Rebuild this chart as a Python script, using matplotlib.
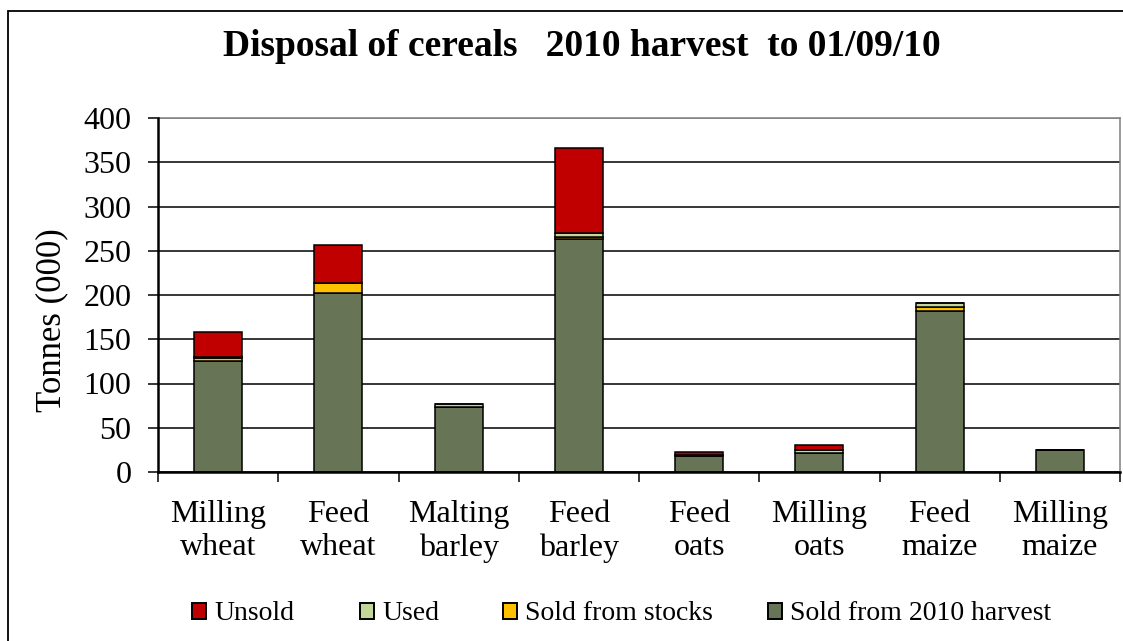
import numpy as np
import matplotlib
matplotlib.use("Agg")
import matplotlib.pyplot as plt
from matplotlib.patches import Patch, Rectangle

plt.rcParams['font.family'] = ['Liberation Serif', 'DejaVu Serif']

# data (tonnes, 000)
categories = ["Milling\nwheat", "Feed\nwheat", "Malting\nbarley", "Feed\nbarley",
              "Feed\noats", "Milling\noats", "Feed\nmaize", "Milling\nmaize"]
harvest = [125, 202, 74, 263, 18, 22, 182, 25]
stocks = [4, 11, 0, 3, 0, 0, 5, 0]
used = [1, 0, 3, 4, 1, 3, 4, 0]
unsold = [28, 43, 0, 96, 4, 6, 0, 0]

series = [("Sold from 2010 harvest", harvest, "#677556"),
          ("Sold from stocks", stocks, "#FFC000"),
          ("Used", used, "#C4D79B"),
          ("Unsold", unsold, "#C00000")]

fig = plt.figure(figsize=(11.23, 6.41), dpi=100)
ax = fig.add_axes([158/1123, 1-472/641, 962/1123, (472-118)/641])

x = np.arange(len(categories))
bottom = np.zeros(len(categories))
for name, vals, col in series:
    ax.bar(x, vals, 0.4, bottom=bottom, color=col, edgecolor="black",
           linewidth=1.1, zorder=3, label=name)
    bottom += np.array(vals)

ax.set_xlim(-0.5, len(categories) - 0.5)
ax.set_ylim(0, 400)
ax.set_yticks(np.arange(0, 401, 50))
ax.tick_params(axis="y", labelsize=23, length=7, width=1.1, pad=12)
ax.set_xticks(x)
ax.set_xticklabels(categories, fontsize=23, linespacing=1.2)
ax.tick_params(axis="x", which="major", length=0, pad=20)
ax.set_xticks(np.arange(-0.5, len(categories), 1), minor=True)
ax.tick_params(axis="x", which="minor", length=7, width=1.1)

ax.yaxis.grid(True, color="black", linewidth=1.1, zorder=1)
ax.get_ygridlines()[-1].set_color("#808080")
ax.set_axisbelow(True)

for s in ["left", "bottom"]:
    ax.spines[s].set_linewidth(1.8)
    ax.spines[s].set_zorder(4)
for s in ["top", "right"]:
    ax.spines[s].set_color("#808080")
    ax.spines[s].set_linewidth(1.1)

ax.set_ylabel("Tonnes (000)", fontsize=25)
ax.yaxis.set_label_coords(-0.093, (472-320)/354)

fig.text(582/1123, 1-46/641, "Disposal of cereals   2010 harvest  to 01/09/10",
         ha="center", va="center", fontsize=27, fontweight="bold")

# legend entries placed one by one, like the original
leg_x = [192, 360, 503, 768]
for lx, (n, v, c) in zip(leg_x, reversed(series)):
    h = Patch(facecolor=c, edgecolor="black", linewidth=1.4, label=n)
    fig.legend(handles=[h], loc="center left", bbox_to_anchor=(lx/1123, 1-614/641),
               frameon=False, fontsize=20, handlelength=0.5, handleheight=0.5,
               handletextpad=0.3, borderpad=0, borderaxespad=0)

fig.patches.append(Rectangle((8/1123, -0.05), 1.1, 1.05 - 11/641,
                             transform=fig.transFigure, fill=False,
                             edgecolor="black", linewidth=1.3))

fig.savefig("out.png", dpi=100)
